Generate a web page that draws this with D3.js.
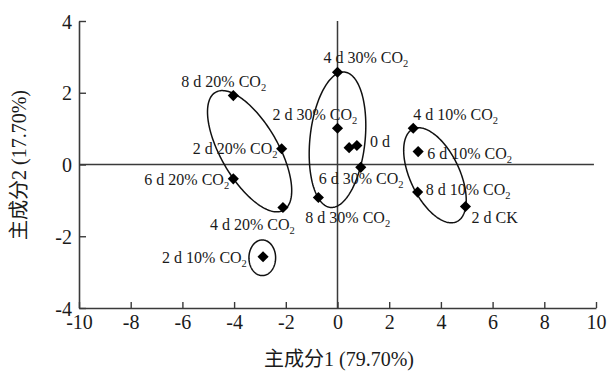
<!DOCTYPE html>
<html>
<head>
<meta charset="utf-8">
<script src="https://cdn.jsdelivr.net/npm/d3@7"></script>
<style>
  body { margin: 0; background: #fff; }
  svg { display: block; }
  text { font-family: "Liberation Serif", "Times New Roman", "Noto Sans CJK SC", serif; fill: #1a1a1a; }
</style>
</head>
<body>
<svg id="chart" width="610" height="372"></svg>
<script>
// PCA scores of each sample (component 1, component 2)
const sampleLabels = [
  "8 d 20% CO2", "2 d 20% CO2", "6 d 20% CO2", "4 d 20% CO2", "2 d 10% CO2",
  "4 d 30% CO2", "2 d 30% CO2", "", "0 d", "6 d 30% CO2", "8 d 30% CO2",
  "4 d 10% CO2", "6 d 10% CO2", "8 d 10% CO2", "2 d CK"
];
const pc1 = [-4.03, -2.16, -4.03, -2.11, -2.88, 0.00, 0.00, 0.45, 0.75, 0.90, -0.74, 2.93, 3.12, 3.10, 4.95];
const pc2 = [1.92, 0.44, -0.40, -1.20, -2.57, 2.57, 1.01, 0.47, 0.53, -0.08, -0.92, 1.01, 0.36, -0.77, -1.17];

const xTicks = [-10, -8, -6, -4, -2, 0, 2, 4, 6, 8, 10];
const yTicks = [-4, -2, 0, 2, 4];
const xTitle = "主成分1 (79.70%)";
const yTitle = "主成分2 (17.70%)";

// Group ellipses: centre and two conjugate half-axes, in component units
const ellipseCx = [-3.40, 0.00, 3.77, -2.91];
const ellipseCy = [0.37, 0.69, -0.30, -2.60];
const ellipseUx = [1.318, -0.275, 0.845, 0.000];
const ellipseUy = [-1.643, -1.886, -1.292, -0.497];
const ellipseVx = [0.957, 1.060, 0.866, 0.516];
const ellipseVy = [0.397, -0.080, 0.293, 0.000];

// label placement relative to its marker (text start, baseline), px
const labelOffset = [
  [-52, -9], [-89, 5], [-89, 6], [-73, 22], [-101, 6],
  [-14, -9], [-65, -8], [0, 0], [13, 2], [-42, 17], [-13, 25],
  [0, -8], [9, 7], [8, 3], [6, 17]
];

const svg = d3.select("#chart");
const x = d3.scaleLinear().domain([-10, 10]).range([79, 596]);
const y = d3.scaleLinear().domain([-4, 4]).range([308, 21]);
const axisColor = "#3a3a3a";

// reference lines through the origin
svg.append("line")
  .attr("x1", x(-10)).attr("x2", x(9.92)).attr("y1", y(0)).attr("y2", y(0))
  .attr("stroke", axisColor).attr("stroke-width", 1.5);
svg.append("line")
  .attr("x1", x(0)).attr("x2", x(0)).attr("y1", y(4)).attr("y2", y(-4))
  .attr("stroke", axisColor).attr("stroke-width", 1.5);

// axes with inward ticks
const gx = svg.append("g").attr("transform", `translate(0,${y(-4)})`)
  .call(d3.axisBottom(x).tickValues(xTicks).tickFormat(d3.format("d"))
    .tickSizeInner(-6).tickSizeOuter(0).tickPadding(7));
const gy = svg.append("g").attr("transform", `translate(${x(-10)},0)`)
  .call(d3.axisLeft(y).tickValues(yTicks).tickFormat(d3.format("d"))
    .tickSizeInner(-7).tickSizeOuter(0).tickPadding(7));
[gx, gy].forEach(g => {
  g.select(".domain").attr("stroke", axisColor).attr("stroke-width", 1.6);
  g.selectAll(".tick line").attr("stroke", axisColor).attr("stroke-width", 1.4);
  g.selectAll(".tick text").attr("font-size", 20).attr("fill", "#1a1a1a")
    .attr("font-family", "Liberation Serif, Times New Roman, serif")
    .text(d => d < 0 ? "-" + Math.abs(d) : d);
});
gy.selectAll(".tick text").attr("dy", "0.36em");

// axis titles
svg.append("text").attr("x", 339).attr("y", 366)
  .attr("text-anchor", "middle").attr("font-size", 20).text(xTitle);
svg.append("text").attr("transform", "translate(26,165) rotate(-90)")
  .attr("text-anchor", "middle").attr("font-size", 20).text(yTitle);

// group ellipses
const ts = d3.range(0, 2 * Math.PI, Math.PI / 90);
const ring = d3.line().curve(d3.curveLinearClosed);
ellipseCx.forEach((cx, i) => {
  const pts = ts.map(t => [
    x(cx + ellipseUx[i] * Math.cos(t) + ellipseVx[i] * Math.sin(t)),
    y(ellipseCy[i] + ellipseUy[i] * Math.cos(t) + ellipseVy[i] * Math.sin(t))
  ]);
  svg.append("path").attr("d", ring(pts))
    .attr("fill", "none").attr("stroke", "#111").attr("stroke-width", 1.5);
});

// sample markers
const diamond = d3.symbol().type(d3.symbolSquare).size(62);
svg.append("g").selectAll("path").data(pc1).join("path")
  .attr("d", diamond)
  .attr("transform", (d, i) => `translate(${x(d)},${y(pc2[i])}) rotate(45)`)
  .attr("fill", "#000");

// sample labels, CO2 with subscript
const lab = svg.append("g").attr("font-size", 16);
sampleLabels.forEach((s, i) => {
  if (!s) return;
  const t = lab.append("text")
    .attr("x", x(pc1[i]) + labelOffset[i][0])
    .attr("y", y(pc2[i]) + labelOffset[i][1]);
  if (s.endsWith("CO2")) {
    t.append("tspan").text(s.slice(0, -1));
    t.append("tspan").attr("font-size", 10.5).attr("dy", 4).text("2");
  } else {
    t.text(s);
  }
});
</script>
</body>
</html>
